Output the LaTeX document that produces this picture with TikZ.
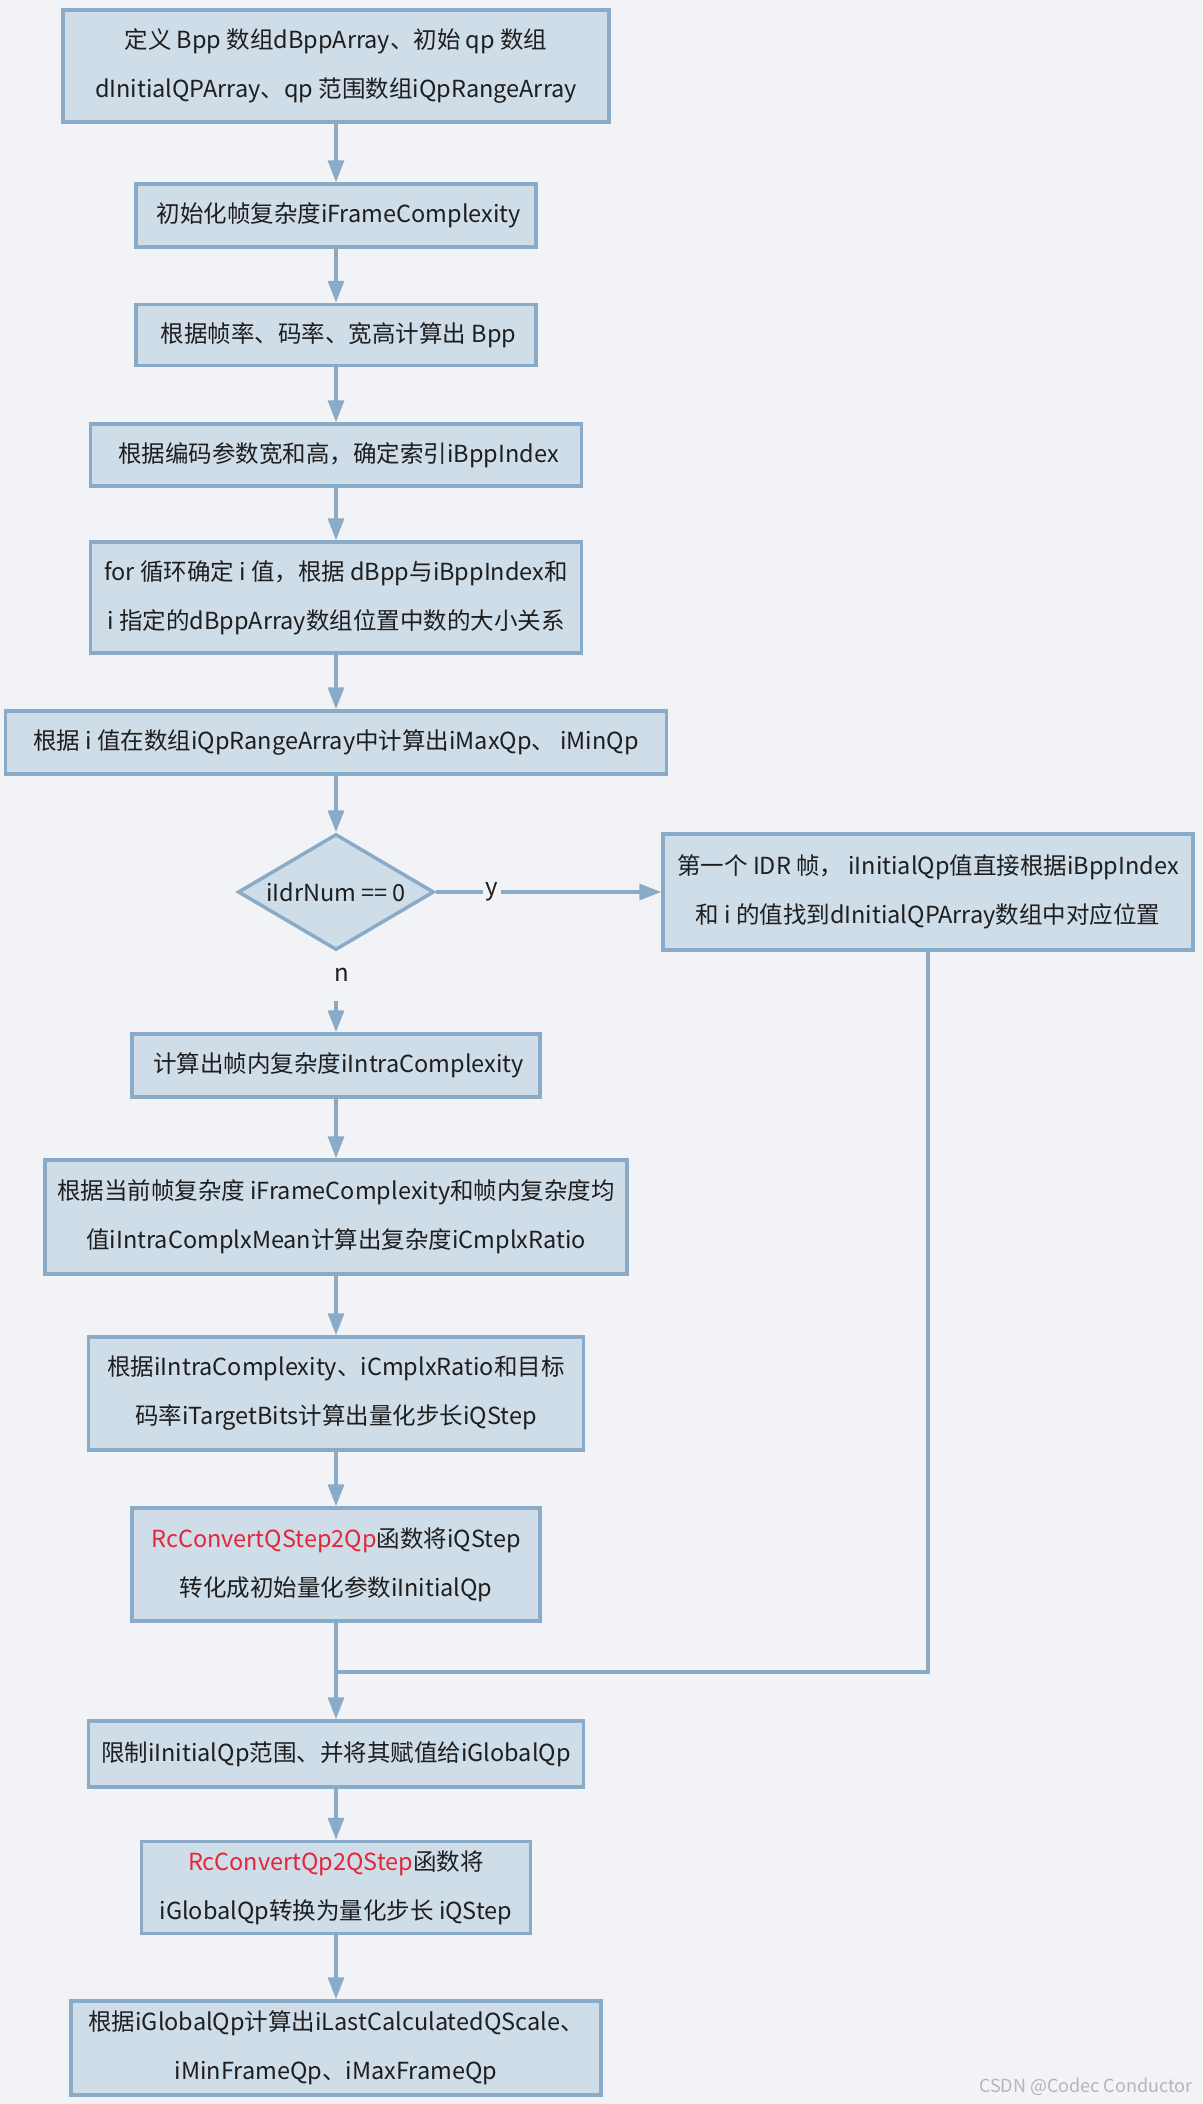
\documentclass[tikz,border=0pt]{standalone}
\usepackage{fontspec}
\setmainfont{Noto Sans CJK SC}
\usetikzlibrary{arrows.meta,shapes.geometric}
\definecolor{bg}{HTML}{F2F3F6}
\definecolor{boxfill}{HTML}{CFDDE8}
\definecolor{boxline}{HTML}{89ABC7}
\definecolor{txt}{HTML}{1E1E1E}
\definecolor{redtxt}{HTML}{E3263A}
\definecolor{wm}{HTML}{B4B6BA}
\newcommand{\rd}[1]{\textcolor{redtxt}{#1}}
\begin{document}
\begin{tikzpicture}[x=1pt,y=-1pt,
  box/.style={draw=boxline, fill=boxfill, line width=3.5pt, text=txt, align=center,
    inner sep=0pt, font=\fontsize{23.5}{49}\selectfont},
  dia/.style={diamond, aspect=1.69, draw=boxline, fill=boxfill, line width=3.5pt, text=txt,
    inner sep=0pt, font=\fontsize{23.5}{49}\selectfont},
  arr/.style={draw=boxline, line width=3.5pt, -{Triangle[length=22pt,width=16pt]}},
  ln/.style={draw=boxline, line width=3.5pt},
  lbl/.style={text=txt, font=\fontsize{24}{26}\selectfont}]
\path[fill=bg] (0,0) rectangle (1202,2104);

\node[box, minimum width=546pt, minimum height=112pt] (b1) at (336,66)
  {定义 Bpp 数组dBppArray、初始 qp 数组\\dInitialQPArray、qp 范围数组iQpRangeArray};
\node[box, minimum width=400pt, minimum height=63pt] (b2) at (336,215.5)
  {\ 初始化帧复杂度iFrameComplexity};
\node[box, minimum width=400pt, minimum height=61pt] (b3) at (336,335)
  {\ 根据帧率、码率、宽高计算出 Bpp};
\node[box, minimum width=491pt, minimum height=62pt] (b4) at (336,455)
  {\ 根据编码参数宽和高，确定索引iBppIndex};
\node[box, minimum width=491pt, minimum height=111pt] (b5) at (336,597.5)
  {for 循环确定 i 值，根据 dBpp与iBppIndex和\\i 指定的dBppArray数组位置中数的大小关系};
\node[box, minimum width=661pt, minimum height=63pt] (b6) at (336,742.5)
  {根据 i 值在数组iQpRangeArray中计算出iMaxQp、 iMinQp};
\node[dia, minimum width=196pt, minimum height=116pt] (d) at (336,892) {iIdrNum == 0};
\node[box, minimum width=530pt, minimum height=116pt] (rb) at (928,892)
  {第一个 IDR 帧， iInitialQp值直接根据iBppIndex\\和 i 的值找到dInitialQPArray数组中对应位置};
\node[lbl, minimum height=52pt, inner sep=0pt] (n) at (342,975) {n};
\node[box, minimum width=408pt, minimum height=63pt] (b7) at (336,1065.5)
  {\ 计算出帧内复杂度iIntraComplexity};
\node[box, minimum width=582pt, minimum height=114pt] (b8) at (336,1217)
  {根据当前帧复杂度 iFrameComplexity和帧内复杂度均\\值iIntraComplxMean计算出复杂度iCmplxRatio};
\node[box, minimum width=495pt, minimum height=113pt] (b9) at (336,1393.5)
  {根据iIntraComplexity、iCmplxRatio和目标\\码率iTargetBits计算出量化步长iQStep};
\node[box, minimum width=408pt, minimum height=113pt] (b10) at (336,1564.5)
  {\rd{RcConvertQStep2Qp}函数将iQStep\\转化成初始量化参数iInitialQp};
\node[box, minimum width=495pt, minimum height=66pt] (b11) at (336,1754)
  {限制iInitialQp范围、并将其赋值给iGlobalQp};
\node[box, minimum width=389pt, minimum height=92pt] (b12) at (336,1887.5)
  {\rd{RcConvertQp2QStep}函数将\\iGlobalQp转换为量化步长 iQStep};
\node[box, minimum width=530pt, minimum height=94pt] (b13) at (336,2048)
  {根据iGlobalQp计算出iLastCalculatedQScale、\\iMinFrameQp、iMaxFrameQp};
\node[text=wm, font=\fontsize{18}{20}\selectfont, anchor=east, inner sep=0pt] (wm) at (1193,2087)
  {CSDN @Codec Conductor};
\coordinate (j) at (336,1672);

\draw[arr] (b1) -- (b2);
\draw[arr] (b2) -- (b3);
\draw[arr] (b3) -- (b4);
\draw[arr] (b4) -- (b5);
\draw[arr] (b5) -- (b6);
\draw[arr] (b6) -- (d);
\draw[arr] (d.east) -- node[lbl, fill=bg, inner sep=3pt, pos=0.25] {y} (rb.west);
\draw[arr] (n.south -| b7.north) -- (b7.north);
\draw[arr] (b7) -- (b8);
\draw[arr] (b8) -- (b9);
\draw[arr] (b9) -- (b10);
\draw[arr] (b10) -- (b11);
\draw[ln] (rb.south) |- (j);
\draw[arr] (b11) -- (b12);
\draw[arr] (b12) -- (b13);
\end{tikzpicture}
\end{document}
